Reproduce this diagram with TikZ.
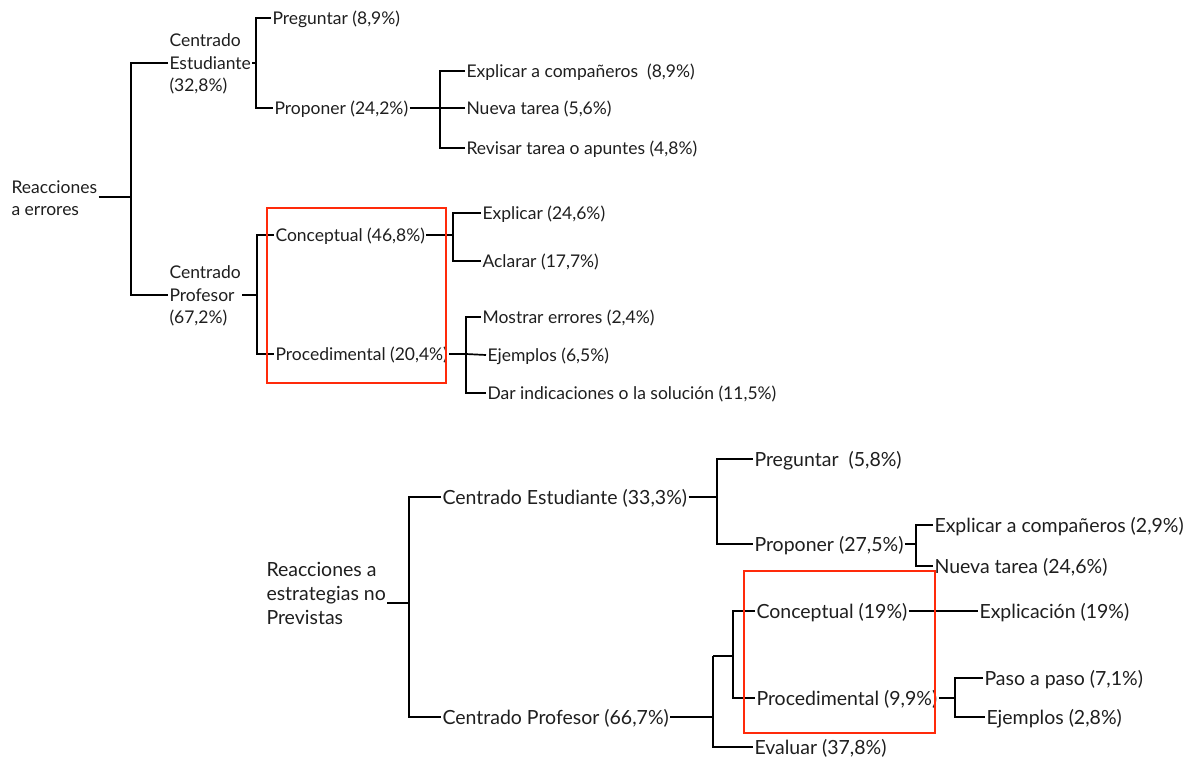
\documentclass[tikz,border=0pt]{standalone}
\usepackage{fontspec}
\setmainfont{Lato}
\definecolor{boxred}{HTML}{FF2A0A}
\definecolor{ink}{HTML}{1E1E1E}
\begin{document}
\begin{tikzpicture}[x=1pt,y=-1pt,
  lbl/.style={anchor=west,inner sep=0pt,outer sep=1.5pt,text=ink,
    font=\fontsize{17.5}{22}\selectfont,text height=15pt,text depth=2pt},
  lblm/.style={anchor=west,inner sep=0pt,outer sep=1.5pt,text=ink,align=left,
    font=\fontsize{17.5}{22.5}\selectfont},
  lblb/.style={anchor=west,inner sep=0pt,outer sep=1.5pt,text=ink,
    font=\fontsize{19.5}{24}\selectfont,text height=17pt,text depth=2pt},
  lblbm/.style={anchor=west,inner sep=0pt,outer sep=1.5pt,text=ink,align=left,
    font=\fontsize{19.5}{24}\selectfont},
  conn/.style={line width=1.7pt,draw=black},
  hl/.style={draw=boxred,line width=2.2pt}]
\useasboundingbox (0,0) rectangle (1190,759);

% ---------- top tree ----------
\node[lblm] (r1) at (10,198) {Reacciones\\a errores};
\node[lblm] (ce) at (168,64) {Centrado\\Estudiante\\(32,8\%)};
\node[lblm] (cp) at (168,296) {Centrado\\Profesor\\(67,2\%)};
\node[lbl] (pre1) at (271,18) {Preguntar (8,9\%)};
\node[lbl] (pro1) at (273,108) {Proponer (24,2\%)};
\node[lbl] (exc1) at (465,71) {Explicar a compañeros\ \ (8,9\%)};
\node[lbl] (nt1) at (465,108) {Nueva tarea (5,6\%)};
\node[lbl] (rev1) at (465,148) {Revisar tarea o apuntes (4,8\%)};
\node[lbl] (con1) at (274,235) {Conceptual (46,8\%)};
\node[lbl] (proc1) at (274,354) {Procedimental (20,4\%)};
\node[lbl] (exp1) at (481,213) {Explicar (24,6\%)};
\node[lbl] (acl1) at (481,261) {Aclarar (17,7\%)};
\node[lbl] (mos1) at (481,317) {Mostrar errores (2,4\%)};
\node[lbl] (eje1) at (486,355) {Ejemplos (6,5\%)};
\node[lbl] (dar1) at (486,393) {Dar indicaciones o la solución (11,5\%)};

\coordinate (j0) at (131,197);
\coordinate (j1) at (256,63);
\coordinate (j2) at (440,108);
\coordinate (j3) at (257,295);
\coordinate (j4) at (453,235);
\coordinate (j5) at (466,354);

\draw[conn] (r1.east |- j0) -- (j0);
\draw[conn] (ce.west |- j1) -| (j0) |- (cp.west |- j3);
\draw[conn] (ce.east |- j1) -- (j1);
\draw[conn] (pre1.west) -| (j1) |- (pro1.west);
\draw[conn] (pro1.east) -- (j2);
\draw[conn] (exc1.west) -| (j2) |- (rev1.west);
\draw[conn] (j2) -- (nt1.west);
\draw[conn] (cp.east |- j3) -- (j3);
\draw[conn] (con1.west) -| (j3) |- (proc1.west);
\draw[conn] (con1.east) -- (j4);
\draw[conn] (exp1.west) -| (j4) |- (acl1.west);
\draw[conn] (proc1.east) -- (j5);
\draw[conn] (mos1.west) -| (j5) |- (dar1.west);
\draw[conn] (j5) -- (eje1.west);

\draw[hl] (267,208) rectangle (446,383);

% ---------- bottom tree ----------
\node[lblbm] (r2) at (265,593) {Reacciones a\\estrategias no\\Previstas};
\node[lblb] (ce2) at (441,497) {Centrado Estudiante (33,3\%)};
\node[lblb] (cp2) at (441,717) {Centrado Profesor (66,7\%)};
\node[lblb] (pre2) at (753,459) {Preguntar\ \ (5,8\%)};
\node[lblb] (pro2) at (753,544) {Proponer (27,5\%)};
\node[lblb] (exc2) at (933,525) {Explicar a compañeros (2,9\%)};
\node[lblb] (nt2) at (933,566) {Nueva tarea (24,6\%)};
\node[lblb] (ev2) at (753,747) {Evaluar (37,8\%)};
\node[lblb] (con2) at (755,611) {Conceptual (19\%)};
\node[lblb] (proc2) at (755,698) {Procedimental (9,9\%)};
\node[lblb] (expn2) at (978,611) {Explicación (19\%)};
\node[lblb] (pas2) at (983,678) {Paso a paso (7,1\%)};
\node[lblb] (eje2) at (985,717) {Ejemplos (2,8\%)};

\coordinate (k0) at (409,603);
\coordinate (k1) at (717,497);
\coordinate (k2) at (916,544);
\coordinate (k3) at (713,717);
\coordinate (k4) at (713,656);
\coordinate (k5) at (733,656);
\coordinate (k6) at (955,698);

\draw[conn] (r2.east |- k0) -- (k0);
\draw[conn] (ce2.west) -| (k0) |- (cp2.west);
\draw[conn] (ce2.east) -- (k1);
\draw[conn] (pre2.west) -| (k1) |- (pro2.west);
\draw[conn] (pro2.east) -- (k2);
\draw[conn] (exc2.west) -| (k2) |- (nt2.west);
\draw[conn] (cp2.east) -- (k3);
\draw[conn] (k4) -- (k3) |- (ev2.west);
\draw[conn] (k4) -- (k5);
\draw[conn] (con2.west) -| (k5) |- (proc2.west);
\draw[conn] (con2.east) -- (expn2.west);
\draw[conn] (proc2.east) -- (k6);
\draw[conn] (pas2.west) -| (k6) |- (eje2.west);

\draw[hl] (744,571) rectangle (935,733);
\end{tikzpicture}
\end{document}
